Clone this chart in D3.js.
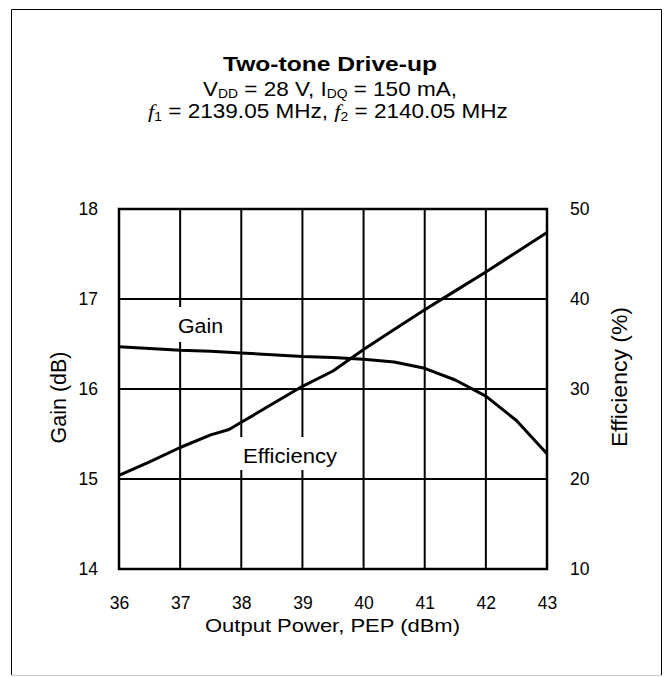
<!DOCTYPE html>
<html>
<head>
<meta charset="utf-8">
<script src="https://cdn.jsdelivr.net/npm/d3@7"></script>
<style>
  body { margin: 0; background: #fff; }
  text { font-family: Arial, "Liberation Sans", sans-serif; fill: #000; }
</style>
</head>
<body>
<div id="chart"></div>
<script>
// gain curve
var gainPower = [36, 36.5, 37, 37.5, 38, 38.5, 39, 39.5, 40, 40.5, 41, 41.5, 42, 42.5, 43]
var gainValues = [16.47, 16.45, 16.43, 16.42, 16.40, 16.38, 16.36, 16.35, 16.33, 16.30, 16.23, 16.10, 15.92, 15.65, 15.28]

// efficiency curve
var effPower = [36, 36.5, 37, 37.5, 37.8, 38, 38.5, 39, 39.5, 40, 40.5, 41, 41.5, 42, 42.5, 43]
var effValues = [20.4, 21.9, 23.5, 24.9, 25.5, 26.3, 28.3, 30.3, 32.0, 34.4, 36.6, 38.8, 40.9, 43.0, 45.2, 47.4]

var xTicks = [36, 37, 38, 39, 40, 41, 42, 43]
var gainTicks = [14, 15, 16, 17, 18]
var effTicks = [10, 20, 30, 40, 50]

var width = 666, height = 677
var serif = '"Times New Roman", "Liberation Serif", serif'

var svg = d3.select('#chart')
    .append('svg')
    .attr('width', width)
    .attr('height', height)

// squeeze/stretch a text sideways to a given width, around its centre
function fitWidth(t, w) {
    var bb = t.node().getBBox()
    var cx = bb.x + bb.width / 2
    t.attr('transform', 'translate(' + cx + ',0) scale(' + (w / bb.width) + ',1) translate(' + (-cx) + ',0)')
}

// outer frame
svg.append('path')
    .attr('d', 'M11.5,675.5 V9.5 H661.5 V675.5')
    .attr('fill', 'none')
    .attr('stroke', '#000')
    .attr('stroke-width', 1)
svg.append('line')
    .attr('x1', 11).attr('x2', 662)
    .attr('y1', 675.5).attr('y2', 675.5)
    .attr('stroke', '#ccc')

var x = d3.scaleLinear().domain([36, 43]).range([119, 547])
var yGain = d3.scaleLinear().domain([14, 18]).range([569, 209])
var yEff = d3.scaleLinear().domain([10, 50]).range([569, 209])

// grid
var grid = svg.append('g')
grid.selectAll('.vgrid')
    .data(xTicks)
    .enter()
    .append('line')
    .attr('class', 'vgrid')
    .attr('x1', function(d) { return x(d) })
    .attr('x2', function(d) { return x(d) })
    .attr('y1', yGain(14))
    .attr('y2', yGain(18))
    .attr('stroke', '#000')
    .attr('stroke-width', 2)

grid.selectAll('.hgrid')
    .data(gainTicks)
    .enter()
    .append('line')
    .attr('class', 'hgrid')
    .attr('x1', x(36))
    .attr('x2', x(43))
    .attr('y1', function(d) { return yGain(d) })
    .attr('y2', function(d) { return yGain(d) })
    .attr('stroke', '#000')
    .attr('stroke-width', 2)

svg.append('rect')
    .attr('x', x(36)).attr('y', yGain(18))
    .attr('width', x(43) - x(36)).attr('height', yGain(14) - yGain(18))
    .attr('fill', 'none')
    .attr('stroke', '#000')
    .attr('stroke-width', 2.5)

// axes (labels only)
var fmt = d3.format('d')
var xAxis = svg.append('g')
    .attr('transform', 'translate(0,' + yGain(14) + ')')
    .call(d3.axisBottom(x).tickValues(xTicks).tickFormat(fmt).tickSize(0).tickPadding(28))
var leftAxis = svg.append('g')
    .attr('transform', 'translate(' + x(36) + ',0)')
    .call(d3.axisLeft(yGain).tickValues(gainTicks).tickFormat(fmt).tickSize(0).tickPadding(21))
var rightAxis = svg.append('g')
    .attr('transform', 'translate(' + x(43) + ',0)')
    .call(d3.axisRight(yEff).tickValues(effTicks).tickFormat(fmt).tickSize(0).tickPadding(23))

;[xAxis, leftAxis, rightAxis].forEach(function(a) {
    a.select('.domain').remove()
    a.selectAll('text')
        .attr('font-size', 17.5)
        .attr('font-family', 'Arial, "Liberation Sans", sans-serif')
        .attr('fill', '#000')
})

// label backgrounds break the grid lines
svg.append('rect')
    .attr('x', 172).attr('y', 307).attr('width', 58).attr('height', 35)
    .attr('fill', '#fff')
svg.append('rect')
    .attr('x', 236).attr('y', 437).attr('width', 108).attr('height', 33)
    .attr('fill', '#fff')

// curves
var gainLine = d3.line()
    .x(function(d, i) { return x(gainPower[i]) })
    .y(function(d) { return yGain(d) })
var effLine = d3.line()
    .x(function(d, i) { return x(effPower[i]) })
    .y(function(d) { return yEff(d) })

svg.append('path')
    .datum(gainValues)
    .attr('d', gainLine)
    .attr('fill', 'none')
    .attr('stroke', '#000')
    .attr('stroke-width', 3)
    .attr('stroke-linejoin', 'round')

svg.append('path')
    .datum(effValues)
    .attr('d', effLine)
    .attr('fill', 'none')
    .attr('stroke', '#000')
    .attr('stroke-width', 3)
    .attr('stroke-linejoin', 'round')

svg.append('text')
    .attr('x', 178).attr('y', 333)
    .attr('font-size', 20)
    .attr('textLength', 45).attr('lengthAdjust', 'spacingAndGlyphs')
    .text('Gain')
svg.append('text')
    .attr('x', 243).attr('y', 463)
    .attr('font-size', 20)
    .attr('textLength', 94).attr('lengthAdjust', 'spacingAndGlyphs')
    .text('Efficiency')

// axis titles
svg.append('text')
    .attr('x', 332.5).attr('y', 632)
    .attr('text-anchor', 'middle')
    .attr('font-size', 19)
    .attr('textLength', 255).attr('lengthAdjust', 'spacingAndGlyphs')
    .text('Output Power, PEP (dBm)')
svg.append('text')
    .attr('transform', 'translate(66,397.5) rotate(-90)')
    .attr('text-anchor', 'middle')
    .attr('font-size', 22)
    .attr('textLength', 92).attr('lengthAdjust', 'spacingAndGlyphs')
    .text('Gain (dB)')
svg.append('text')
    .attr('transform', 'translate(627,377) rotate(-90)')
    .attr('text-anchor', 'middle')
    .attr('font-size', 22)
    .attr('textLength', 140).attr('lengthAdjust', 'spacingAndGlyphs')
    .text('Efficiency (%)')

// title
svg.append('text')
    .attr('x', 330).attr('y', 71)
    .attr('text-anchor', 'middle')
    .attr('font-size', 20.5)
    .attr('font-weight', 'bold')
    .attr('textLength', 214).attr('lengthAdjust', 'spacingAndGlyphs')
    .text('Two-tone Drive-up')

var sub1 = svg.append('text')
    .attr('x', 330).attr('y', 96)
    .attr('text-anchor', 'middle')
    .attr('font-size', 19.5)
sub1.append('tspan').text('V')
sub1.append('tspan').attr('font-size', 12).attr('dy', 2.5).text('DD')
sub1.append('tspan').attr('dy', -2.5).text(' = 28 V, I')
sub1.append('tspan').attr('font-size', 12).attr('dy', 2.5).text('DQ')
sub1.append('tspan').attr('dy', -2.5).text(' = 150 mA,')
fitWidth(sub1, 254)

var sub2 = svg.append('text')
    .attr('x', 328).attr('y', 118.5)
    .attr('text-anchor', 'middle')
    .attr('font-size', 19.5)
sub2.append('tspan').attr('font-family', serif).attr('font-style', 'italic').text('f')
sub2.append('tspan').attr('font-size', 12).attr('dy', 2.5).text('1')
sub2.append('tspan').attr('dy', -2.5).text(' = 2139.05 MHz, ')
sub2.append('tspan').attr('font-family', serif).attr('font-style', 'italic').text('f')
sub2.append('tspan').attr('font-size', 12).attr('dy', 2.5).text('2')
sub2.append('tspan').attr('dy', -2.5).text(' = 2140.05 MHz')
fitWidth(sub2, 360)
</script>
</body>
</html>
